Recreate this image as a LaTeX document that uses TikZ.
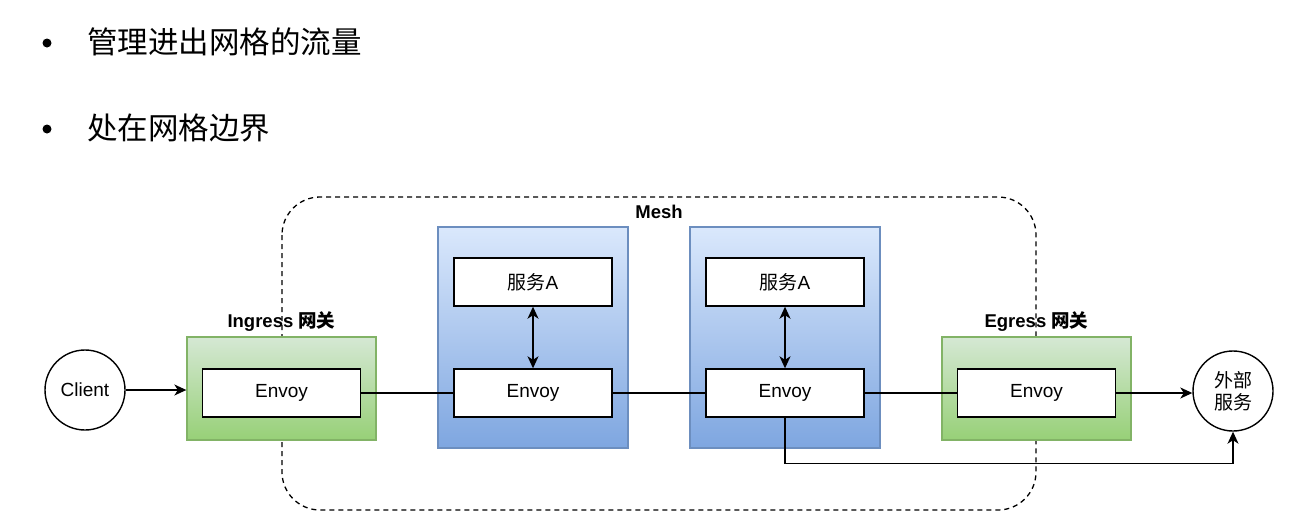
\documentclass[tikz,border=0pt]{standalone}
\usepackage{fontspec}
\setmainfont{Liberation Sans}
\newfontfamily\cjk{Noto Sans CJK SC}
\usetikzlibrary{arrows.meta}
\definecolor{gstroke}{HTML}{82B366}
\definecolor{gtop}{HTML}{D5E8D4}
\definecolor{gbot}{HTML}{97D077}
\definecolor{bstroke}{HTML}{6C8EBF}
\definecolor{btop}{HTML}{DAE8FC}
\definecolor{bbot}{HTML}{7EA6E0}
\tikzset{
  txt/.style={font=\fontsize{19}{22}\selectfont},
  envoybox/.style={draw=black, fill=white, line width=1.4pt, minimum width=158pt, minimum height=48pt, inner sep=0pt, txt},
  greenbox/.style={draw=gstroke, top color=gtop, bottom color=gbot, line width=1.3pt, minimum width=189pt, minimum height=103pt, inner sep=0pt},
  bluebox/.style={draw=bstroke, top color=btop, bottom color=bbot, line width=1.3pt, minimum width=190pt, minimum height=221pt, inner sep=0pt},
  endpoint/.style={circle, draw=black, fill=white, line width=1.4pt, minimum size=80pt, inner sep=0pt, txt, align=center},
  boldlabel/.style={font=\fontsize{18.5}{21}\selectfont\bfseries},
  link/.style={line width=1.4pt, draw=black},
  arrowlink/.style={link, -{Stealth[length=12pt,width=11pt,inset=3.5pt]}},
  bothlink/.style={link, {Stealth[length=12pt,width=11pt,inset=3.5pt]}-{Stealth[length=12pt,width=11pt,inset=3.5pt]}},
  bulletdot/.style={circle, fill=black, minimum size=9pt, inner sep=0pt},
  bullettext/.style={anchor=west, font=\fontsize{30.5}{33}\selectfont\cjk, inner sep=0pt}
}
\begin{document}
\begin{tikzpicture}[x=1pt,y=-1pt]
\useasboundingbox (0,0) rectangle (1316,528);
\fill[white] (0,0) rectangle (1316,528);

% bullets
\node[bulletdot] (b1) at (47,43) {};
\node[bullettext] (t1) at (87,42) {管理进出网格的流量};
\node[bulletdot] (b2) at (47,129) {};
\node[bullettext] (t2) at (87,128) {处在网格边界};

% mesh boundary
\draw[line width=1.3pt, dash pattern=on 5pt off 4pt, rounded corners=38pt] (282,197) rectangle (1036,510);
\node[boldlabel] (mesh) at (659,212) {Mesh};

% containers
\node[greenbox] (ing) at (281.5,388.5) {};
\node[bluebox] (blue1) at (533,337.5) {};
\node[bluebox] (blue2) at (785,337.5) {};
\node[greenbox] (egr) at (1036.5,388.5) {};

\node[boldlabel] (inglbl) at (281.5,322) {Ingress {\cjk 网关}};
\node[boldlabel] (egrlbl) at (1036.5,322) {Egress {\cjk 网关}};

% inner boxes
\node[envoybox] (ie) at (281.5,393) {Envoy};
\node[envoybox] (s1) at (533,282) {{\cjk 服务}A};
\node[envoybox] (e1) at (533,393) {Envoy};
\node[envoybox] (s2) at (785,282) {{\cjk 服务}A};
\node[envoybox] (e2) at (785,393) {Envoy};
\node[envoybox] (ee) at (1036.5,393) {Envoy};

% endpoints
\node[endpoint] (client) at (85,390) {Client};
\node[endpoint] (ext) at (1233,391) {\cjk 外部\\\cjk 服务};

% connectors
\draw[arrowlink] (client.east) -- (client.east -| ing.west);
\draw[link] (ie.east) -- (e1.west);
\draw[link] (e1.east) -- (e2.west);
\draw[link] (e2.east) -- (ee.west);
\draw[arrowlink] (ee.east) -- (ee.east -| ext.west);
\draw[bothlink] (s1.south) -- (e1.north);
\draw[bothlink] (s2.south) -- (e2.north);
\draw[arrowlink] (e2.south) -- ++(0,46) -| (ext.south);
\end{tikzpicture}
\end{document}
